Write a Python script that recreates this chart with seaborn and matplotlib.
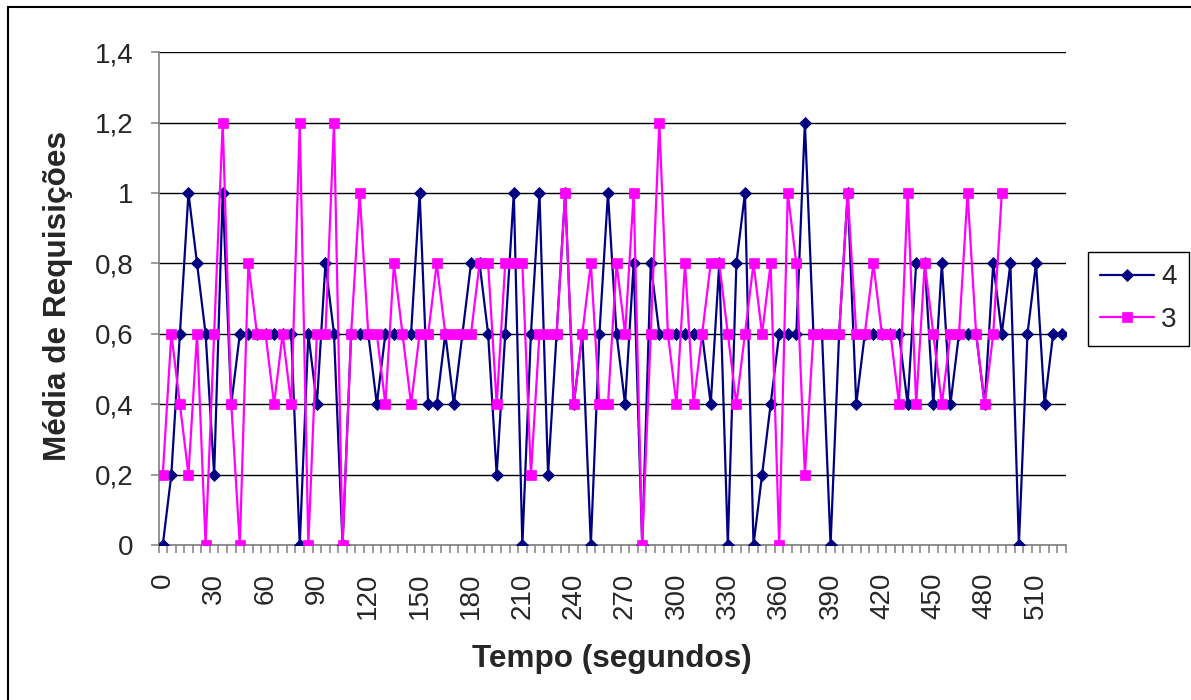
import matplotlib
matplotlib.use("Agg")
import matplotlib.pyplot as plt
import pandas as pd
import seaborn as sns
from matplotlib.patches import Rectangle
from matplotlib.ticker import FixedLocator

# Tempo em segundos (uma categoria a cada 5 s)
tempo = list(range(0, 530, 5))

# Média de requisições por intervalo
serie_4 = [
    0, 0.2, 0.6, 1.0, 0.8, 0.6, 0.2, 1.0, 0.4, 0.6,
    0.6, 0.6, 0.6, 0.6, 0.6, 0.6, 0, 0.6, 0.4, 0.8,
    0.6, 0, 0.6, 0.6, 0.6, 0.4, 0.6, 0.6, 0.6, 0.6,
    1.0, 0.4, 0.4, 0.6, 0.4, 0.6, 0.8, 0.8, 0.6, 0.2,
    0.6, 1.0, 0, 0.6, 1.0, 0.2, 0.6, 1.0, 0.4, 0.6,
    0, 0.6, 1.0, 0.6, 0.4, 0.8, 0, 0.8, 0.6, 0.6,
    0.6, 0.6, 0.6, 0.6, 0.4, 0.8, 0, 0.8, 1.0, 0,
    0.2, 0.4, 0.6, 0.6, 0.6, 1.2, 0.6, 0.6, 0, 0.6,
    1.0, 0.4, 0.6, 0.6, 0.6, 0.6, 0.6, 0.4, 0.8, 0.8,
    0.4, 0.8, 0.4, 0.6, 0.6, 0.6, 0.4, 0.8, 0.6, 0.8,
    0, 0.6, 0.8, 0.4, 0.6, 0.6,
]
serie_3 = [
    0.2, 0.6, 0.4, 0.2, 0.6, 0, 0.6, 1.2, 0.4, 0,
    0.8, 0.6, 0.6, 0.4, 0.6, 0.4, 1.2, 0, 0.6, 0.6,
    1.2, 0, 0.6, 1.0, 0.6, 0.6, 0.4, 0.8, 0.6, 0.4,
    0.6, 0.6, 0.8, 0.6, 0.6, 0.6, 0.6, 0.8, 0.8, 0.4,
    0.8, 0.8, 0.8, 0.2, 0.6, 0.6, 0.6, 1.0, 0.4, 0.6,
    0.8, 0.4, 0.4, 0.8, 0.6, 1.0, 0, 0.6, 1.2, 0.6,
    0.4, 0.8, 0.4, 0.6, 0.8, 0.8, 0.6, 0.4, 0.6, 0.8,
    0.6, 0.8, 0, 1.0, 0.8, 0.2, 0.6, 0.6, 0.6, 0.6,
    1.0, 0.6, 0.6, 0.8, 0.6, 0.6, 0.4, 1.0, 0.4, 0.8,
    0.6, 0.4, 0.6, 0.6, 1.0, 0.6, 0.4, 0.6, 1.0,
]
rotulos_x = ["0", "30", "60", "90", "120", "150", "180", "210", "240",
             "270", "300", "330", "360", "390", "420", "450", "480", "510"]
rotulos_y = ["0", "0,2", "0,4", "0,6", "0,8", "1", "1,2", "1,4"]
valores_y = [0, 0.2, 0.4, 0.6, 0.8, 1.0, 1.2, 1.4]

df4 = pd.DataFrame({"tempo": tempo[:len(serie_4)], "media": serie_4})
df3 = pd.DataFrame({"tempo": tempo[:len(serie_3)], "media": serie_3})

sns.set_style("white")
plt.rcParams["font.family"] = ["Liberation Sans", "DejaVu Sans"]

W, H = 1191, 700
fig = plt.figure(figsize=(W / 100, H / 100), dpi=100)
ax = fig.add_axes([158.5 / W, 1 - 545 / H, (1066 - 158.5) / W, (545 - 52.3) / H])
ax.set_facecolor("white")

navy = "#000080"
magenta = "#FF00FF"

sns.lineplot(data=df4, x="tempo", y="media", ax=ax, color=navy, lw=1.6,
             marker="D", markersize=5.8, markeredgecolor=navy,
             markerfacecolor=navy, markeredgewidth=0.6, estimator=None,
             sort=False, label="4", zorder=3)
sns.lineplot(data=df3, x="tempo", y="media", ax=ax, color=magenta, lw=1.6,
             marker="s", markersize=7.2, markeredgecolor=magenta,
             markerfacecolor=magenta, markeredgewidth=0.5, estimator=None,
             sort=False, label="3", zorder=4)

ax.set_xlim(-2.5, 527.5)
ax.set_ylim(0, 1.4)

# Eixo Y
ax.yaxis.set_major_locator(FixedLocator(valores_y))
ax.set_yticklabels(rotulos_y)
ax.tick_params(axis="y", which="major", length=6, width=1.1, color="#808080",
               pad=12, labelsize=20, left=True)
ax.yaxis.grid(True, color="black", lw=1.0)
ax.xaxis.grid(False)

# Eixo X de categorias: marcas entre categorias, rótulos a cada 30 s
ax.xaxis.set_major_locator(FixedLocator([float(r) for r in rotulos_x]))
ax.set_xticklabels(rotulos_x, rotation=90)
ax.xaxis.set_minor_locator(FixedLocator([t - 2.5 for t in tempo] + [tempo[-1] + 2.5]))
ax.tick_params(axis="x", which="major", length=0, pad=20, labelsize=20, bottom=True)
ax.tick_params(axis="x", which="minor", length=6, width=1.1, color="#808080", bottom=True)

for s in ["top", "right"]:
    ax.spines[s].set_visible(False)
for s in ["left", "bottom"]:
    ax.spines[s].set_color("#808080")
    ax.spines[s].set_linewidth(1.2)
    ax.spines[s].set_zorder(2.5)

ax.set_xlabel("")
ax.set_ylabel("")

fig.text(611.5 / W, 1 - 659 / H, "Tempo (segundos)", fontsize=22.7,
         fontweight="bold", ha="center", va="center")
fig.text(58 / W, 1 - 296 / H, "Média de Requisições", fontsize=22.7,
         fontweight="bold", ha="center", va="center", rotation=90)

leg = ax.legend(loc="upper left", bbox_to_anchor=(1087.7 / W, 1 - 252 / H),
                bbox_transform=fig.transFigure, fontsize=20, frameon=True,
                fancybox=False, framealpha=1, edgecolor="black",
                borderpad=0.45, handlelength=1.95, handletextpad=0.25,
                labelspacing=0.6, borderaxespad=0)
leg.get_frame().set_linewidth(1.0)

# Moldura da área do gráfico
fig.add_artist(Rectangle((8 / W, -0.1), 2, 1 - 7 / H + 0.1,
                         transform=fig.transFigure, fill=False,
                         ec="black", lw=1.5))

fig.savefig("out.png", dpi=100, facecolor="white")
